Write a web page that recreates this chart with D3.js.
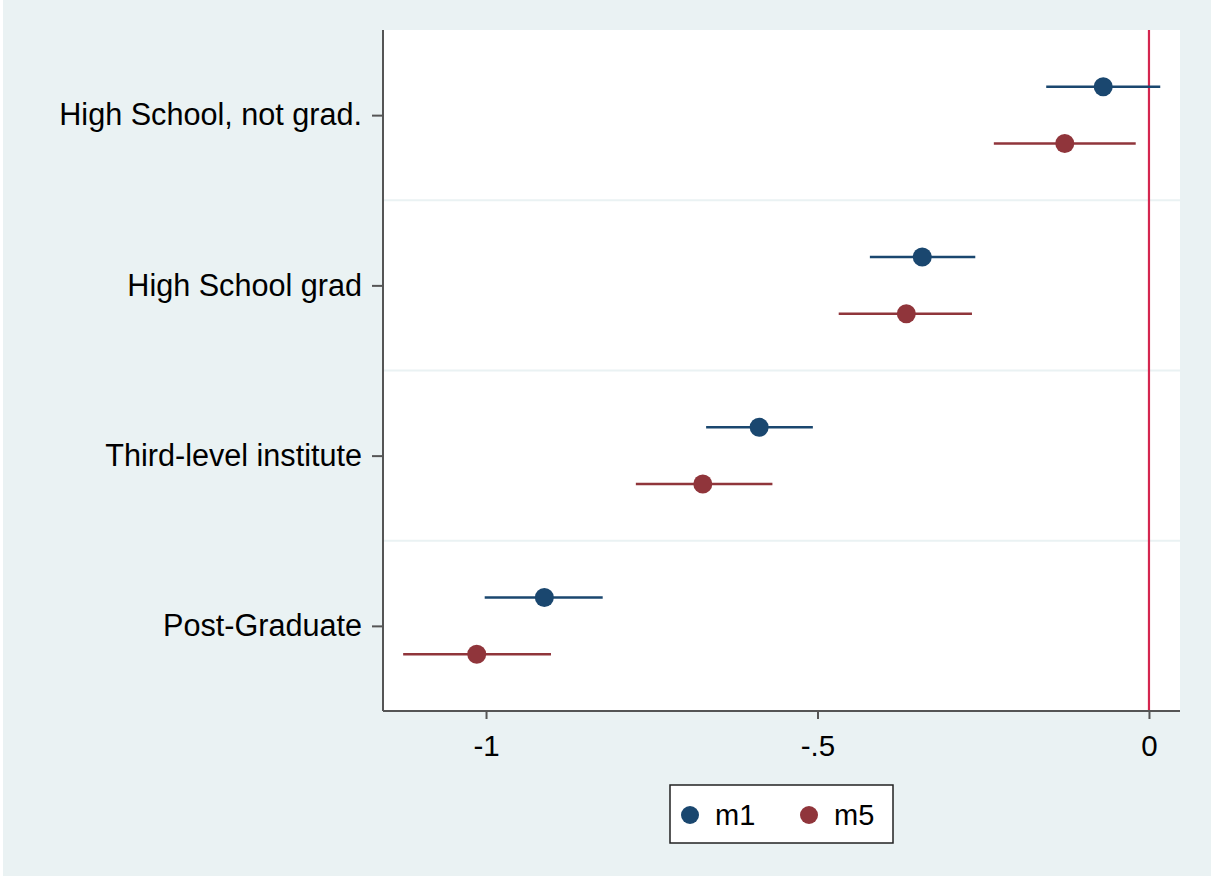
<!doctype html>
<html>
  <head>
    <script src="https://cdnjs.cloudflare.com/ajax/libs/d3/7.8.5/d3.min.js"></script>
    <style>
      body { margin: 0; background: #fff; }
      text { font-family: "Liberation Sans", Arial, sans-serif; }
    </style>
  </head>
  <body>
    <svg width="1211" height="876"></svg>
    <script>
      // coefficients
      var categories = ["High School, not grad.", "High School grad", "Third-level institute", "Post-Graduate"];
      var seriesNames = ["m1", "m5"];
      var m1Est = [-0.069, -0.342, -0.588, -0.912];
      var m1Lo  = [-0.155, -0.421, -0.668, -1.002];
      var m1Hi  = [ 0.017, -0.262, -0.507, -0.824];
      var m5Est = [-0.127, -0.366, -0.673, -1.014];
      var m5Lo  = [-0.234, -0.468, -0.774, -1.125];
      var m5Hi  = [-0.020, -0.267, -0.568, -0.902];
      var xTicks = [-1, -0.5, 0];
      var xTickLabels = ["-1", "-.5", "0"];

      var colors = {m1: "#1a476f", m5: "#90353b"};
      var offsets = {m1: -1/6, m5: 1/6};

      var svg = d3.select("svg");
      svg.append("rect").attr("width", 1211).attr("height", 876).attr("fill", "#eaf2f3");
      svg.append("rect").attr("width", 3).attr("height", 876).attr("fill", "#fff");

      var plotL = 383, plotR = 1180, plotT = 30, plotB = 711;

      var x = d3.scaleLinear().domain([-1.1554, 0.0468]).range([plotL, plotR]);
      var y = d3.scaleLinear().domain([0.5, 4.5]).range([plotT, plotB]);

      svg.append("rect")
        .attr("x", plotL).attr("y", plotT)
        .attr("width", plotR - plotL).attr("height", plotB - plotT)
        .attr("fill", "#fff");

      // separators between groups
      svg.selectAll("line.sep").data([1.5, 2.5, 3.5])
        .enter().append("line")
          .attr("class", "sep")
          .attr("x1", plotL).attr("x2", plotR)
          .attr("y1", d => y(d)).attr("y2", d => y(d))
          .attr("stroke", "#eaf2f3").attr("stroke-width", 2);

      // zero reference line
      svg.append("line")
        .attr("x1", x(0)).attr("x2", x(0))
        .attr("y1", plotT).attr("y2", plotB)
        .attr("stroke", "#d4264f").attr("stroke-width", 2.2);

      var rows = [];
      categories.forEach(function(c, i) {
        rows.push({s: "m1", pos: i + 1 + offsets.m1, est: m1Est[i], lo: m1Lo[i], hi: m1Hi[i]});
        rows.push({s: "m5", pos: i + 1 + offsets.m5, est: m5Est[i], lo: m5Lo[i], hi: m5Hi[i]});
      });

      svg.selectAll("line.ci").data(rows)
        .enter().append("line")
          .attr("class", "ci")
          .attr("x1", d => x(d.lo)).attr("x2", d => x(d.hi))
          .attr("y1", d => y(d.pos)).attr("y2", d => y(d.pos))
          .attr("stroke", d => colors[d.s]).attr("stroke-width", 2.5);

      svg.selectAll("circle.pt").data(rows)
        .enter().append("circle")
          .attr("class", "pt")
          .attr("cx", d => x(d.est)).attr("cy", d => y(d.pos))
          .attr("r", 9.5)
          .attr("fill", d => colors[d.s]);

      // axes
      var yAxis = d3.axisLeft(y)
        .tickValues([1, 2, 3, 4])
        .tickFormat(d => categories[d - 1])
        .tickSize(11).tickPadding(10).tickSizeOuter(0);
      var gy = svg.append("g").attr("transform", "translate(" + plotL + ",0)").call(yAxis);

      var xAxis = d3.axisBottom(x)
        .tickValues(xTicks)
        .tickFormat((d, i) => xTickLabels[i])
        .tickSize(8).tickPadding(16).tickSizeOuter(0);
      var gx = svg.append("g").attr("transform", "translate(0," + plotB + ")").call(xAxis);

      [gy, gx].forEach(function(g) {
        g.select(".domain").attr("stroke", "#555").attr("stroke-width", 2);
        g.selectAll(".tick line").attr("stroke", "#555").attr("stroke-width", 2);
        g.selectAll(".tick text")
          .attr("fill", "#000")
          .style("font-family", "'Liberation Sans', Arial, sans-serif");
      });
      gy.selectAll(".tick text").style("font-size", "30.6px");
      gx.selectAll(".tick text").style("font-size", "29.5px");
      gy.select(".domain").attr("d", "M0," + plotT + "V" + plotB);
      gx.select(".domain").attr("d", "M" + plotL + ",0H" + plotR);

      // legend
      var lg = svg.append("g");
      lg.append("rect")
        .attr("x", 670).attr("y", 785).attr("width", 223).attr("height", 58)
        .attr("fill", "#fff").attr("stroke", "#222").attr("stroke-width", 1.5);
      var items = lg.selectAll("g.item").data(seriesNames)
        .enter().append("g")
          .attr("class", "item")
          .attr("transform", (d, i) => "translate(" + (690 + i * 119) + ",815)");
      items.append("circle").attr("r", 9).attr("fill", d => colors[d]);
      items.append("text")
        .attr("x", 25).attr("y", 10)
        .style("font-size", "29px")
        .text(d => d);
    </script>
  </body>
</html>
